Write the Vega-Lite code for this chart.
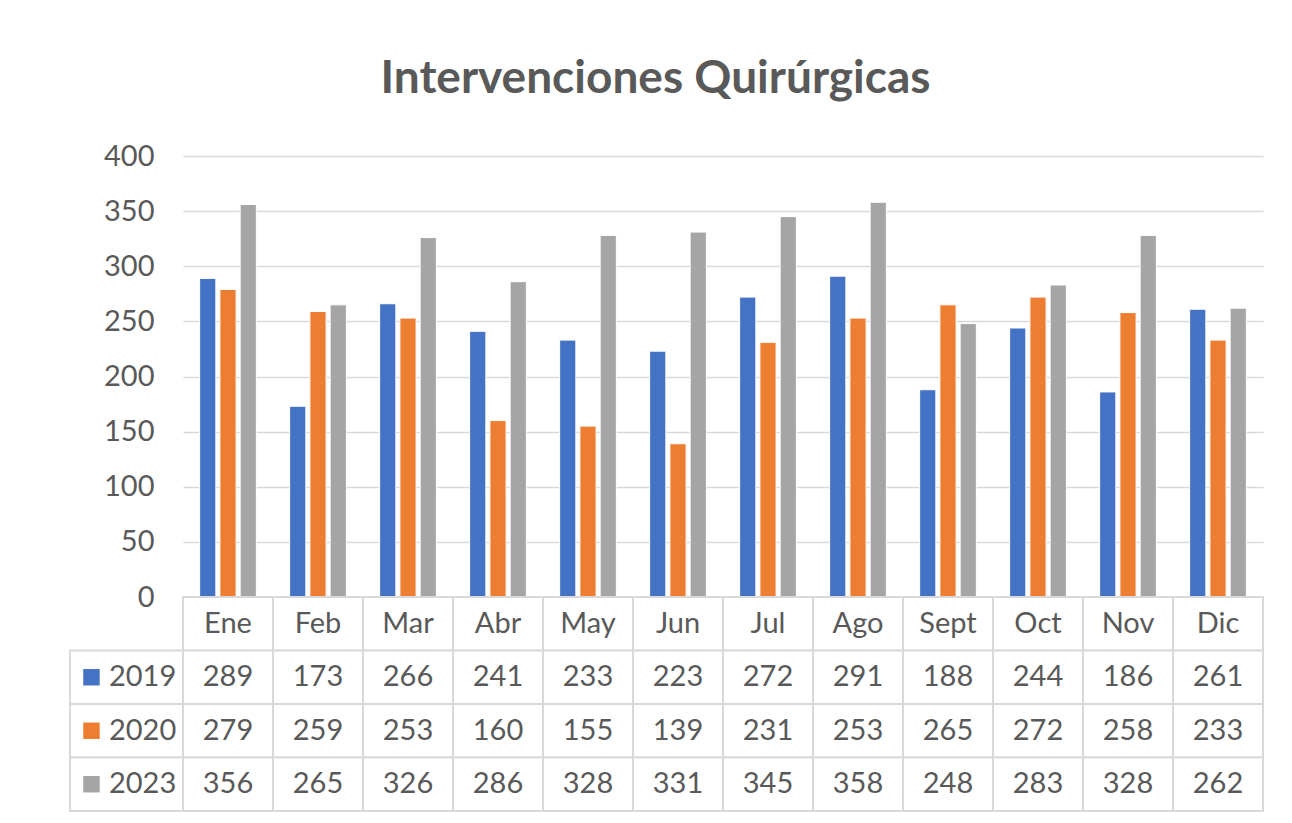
{
  "$schema": "https://vega.github.io/schema/vega-lite/v6.json",
  "padding": {"left": 69, "top": 56, "right": 20, "bottom": 10},
  "background": "white",
  "config": {"view": {"stroke": null}, "font": "Lato"},
  "title": {"text": "Intervenciones Quirúrgicas", "font": "Lato", "fontSize": 46, "fontWeight": "bold", "color": "#595959", "anchor": "middle", "offset": 39, "dx": -11},
  "data": {"values": [
    {"mes": "Ene", "serie": "2019", "valor": 289}, {"mes": "Feb", "serie": "2019", "valor": 173}, {"mes": "Mar", "serie": "2019", "valor": 266},
    {"mes": "Abr", "serie": "2019", "valor": 241}, {"mes": "May", "serie": "2019", "valor": 233}, {"mes": "Jun", "serie": "2019", "valor": 223},
    {"mes": "Jul", "serie": "2019", "valor": 272}, {"mes": "Ago", "serie": "2019", "valor": 291}, {"mes": "Sept", "serie": "2019", "valor": 188},
    {"mes": "Oct", "serie": "2019", "valor": 244}, {"mes": "Nov", "serie": "2019", "valor": 186}, {"mes": "Dic", "serie": "2019", "valor": 261},
    {"mes": "Ene", "serie": "2020", "valor": 279}, {"mes": "Feb", "serie": "2020", "valor": 259}, {"mes": "Mar", "serie": "2020", "valor": 253},
    {"mes": "Abr", "serie": "2020", "valor": 160}, {"mes": "May", "serie": "2020", "valor": 155}, {"mes": "Jun", "serie": "2020", "valor": 139},
    {"mes": "Jul", "serie": "2020", "valor": 231}, {"mes": "Ago", "serie": "2020", "valor": 253}, {"mes": "Sept", "serie": "2020", "valor": 265},
    {"mes": "Oct", "serie": "2020", "valor": 272}, {"mes": "Nov", "serie": "2020", "valor": 258}, {"mes": "Dic", "serie": "2020", "valor": 233},
    {"mes": "Ene", "serie": "2023", "valor": 356}, {"mes": "Feb", "serie": "2023", "valor": 265}, {"mes": "Mar", "serie": "2023", "valor": 326},
    {"mes": "Abr", "serie": "2023", "valor": 286}, {"mes": "May", "serie": "2023", "valor": 328}, {"mes": "Jun", "serie": "2023", "valor": 331},
    {"mes": "Jul", "serie": "2023", "valor": 345}, {"mes": "Ago", "serie": "2023", "valor": 358}, {"mes": "Sept", "serie": "2023", "valor": 248},
    {"mes": "Oct", "serie": "2023", "valor": 283}, {"mes": "Nov", "serie": "2023", "valor": 328}, {"mes": "Dic", "serie": "2023", "valor": 262}
  ]},
  "columns": 2,
  "bounds": "flush",
  "spacing": 0,
  "concat": [
    {
      "width": 113, "height": 441,
      "mark": {"type": "point", "opacity": 0},
      "encoding": {}
    },
    {
      "width": 1080, "height": 441,
      "mark": {"type": "bar", "stroke": "white", "strokeWidth": 1},
      "encoding": {
        "x": {"field": "mes", "type": "nominal", "sort": ["Ene","Feb","Mar","Abr","May","Jun","Jul","Ago","Sept","Oct","Nov","Dic"], "scale": {"paddingInner": 0.37, "paddingOuter": 0.185}, "axis": null},
        "xOffset": {"field": "serie", "type": "nominal", "scale": {"paddingInner": 0.2}},
        "y": {"field": "valor", "type": "quantitative", "scale": {"domain": [0, 400], "nice": false},
          "axis": {"title": null, "values": [0,50,100,150,200,250,300,350,400], "tickSize": 0, "domain": false, "grid": true, "gridColor": "#d9d9d9", "gridWidth": 1.5, "labelFont": "Lato", "labelFontSize": 29, "labelColor": "#595959", "labelPadding": 29}},
        "color": {"field": "serie", "type": "nominal", "scale": {"domain": ["2019","2020","2023"], "range": ["#4472C4","#ED7D31","#A5A5A5"]}, "legend": null}
      }
    },
    {
      "width": 113, "height": 214,
      "transform": [{"filter": "datum.mes == 'Ene'"}],
      "encoding": {
        "y": {"field": "serie", "type": "nominal", "scale": {"domain": ["hdr","2019","2020","2023"], "paddingInner": 0, "paddingOuter": 0}, "axis": null}
      },
      "layer": [
        {
          "mark": {"type": "rect", "fill": "white", "stroke": "#d9d9d9", "strokeWidth": 2},
          "encoding": {
            "x": {"datum": 0, "type": "quantitative", "scale": {"domain": [0, 1], "nice": false, "zero": false}, "axis": null},
            "x2": {"datum": 1}
          }
        },
        {
          "mark": {"type": "point", "shape": "square", "filled": true, "opacity": 1, "size": 270},
          "encoding": {
            "x": {"datum": 0.19, "type": "quantitative"},
            "color": {"field": "serie", "type": "nominal", "scale": {"domain": ["2019","2020","2023"], "range": ["#4472C4","#ED7D31","#A5A5A5"]}, "legend": null}
          }
        },
        {
          "mark": {"type": "text", "align": "right", "baseline": "middle", "font": "Lato", "fontSize": 29, "color": "#595959"},
          "encoding": {
            "x": {"datum": 0.94, "type": "quantitative"},
            "text": {"field": "serie"}
          }
        }
      ]
    },
    {
      "width": 1080, "height": 214,
      "encoding": {
        "x": {"field": "mes", "type": "nominal", "sort": ["Ene","Feb","Mar","Abr","May","Jun","Jul","Ago","Sept","Oct","Nov","Dic"], "scale": {"paddingInner": 0, "paddingOuter": 0}, "axis": null}
      },
      "layer": [
        {
          "transform": [{"filter": "datum.serie == '2019'"}],
          "mark": {"type": "rect", "fill": "white", "stroke": "#d9d9d9", "strokeWidth": 2},
          "encoding": {
            "y": {"datum": "hdr", "type": "nominal", "scale": {"domain": ["hdr","2019","2020","2023"], "paddingInner": 0, "paddingOuter": 0}, "axis": null}
          }
        },
        {
          "mark": {"type": "rect", "fill": "white", "stroke": "#d9d9d9", "strokeWidth": 2},
          "encoding": {
            "y": {"field": "serie", "type": "nominal", "scale": {"domain": ["hdr","2019","2020","2023"], "paddingInner": 0, "paddingOuter": 0}, "axis": null}
          }
        },
        {
          "transform": [{"filter": "datum.serie == '2019'"}],
          "mark": {"type": "text", "align": "center", "baseline": "middle", "font": "Lato", "fontSize": 29, "color": "#595959"},
          "encoding": {
            "y": {"datum": "hdr", "type": "nominal"},
            "text": {"field": "mes"}
          }
        },
        {
          "mark": {"type": "text", "align": "center", "baseline": "middle", "font": "Lato", "fontSize": 29, "color": "#595959"},
          "encoding": {
            "y": {"field": "serie", "type": "nominal"},
            "text": {"field": "valor"}
          }
        }
      ]
    }
  ]
}
